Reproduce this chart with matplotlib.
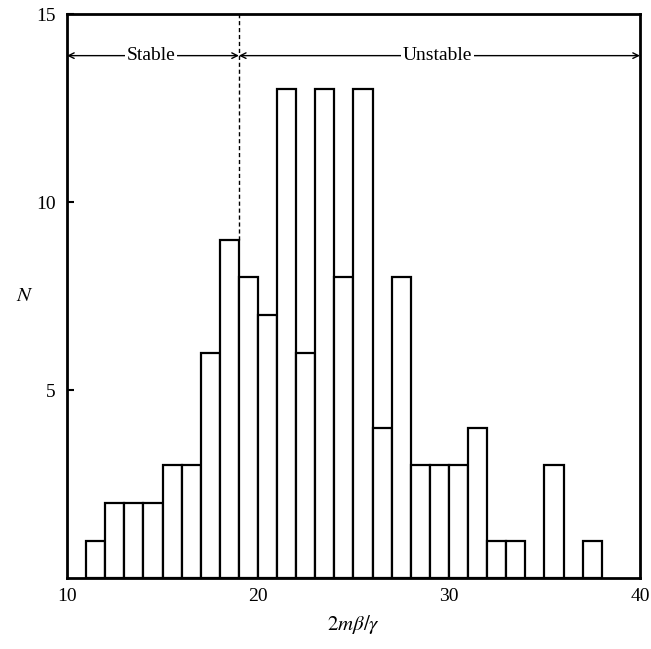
import matplotlib
matplotlib.use("Agg")
import matplotlib.pyplot as plt

plt.rcParams["font.family"] = ["Liberation Serif", "DejaVu Serif"]
plt.rcParams["mathtext.fontset"] = "stix"

# histogram: left bin edges (width 1) and counts
bin_left = [11, 12, 13, 14, 15, 16, 17, 18, 19, 20, 21, 22, 23, 24,
            25, 26, 27, 28, 29, 30, 31, 32, 33, 34, 35, 36, 37]
counts = [1, 2, 2, 2, 3, 3, 6, 9, 8, 7, 13, 6, 13, 8,
          13, 4, 8, 3, 3, 3, 4, 1, 1, 0, 3, 0, 1]

boundary = 19
arrow_y = 13.9
x_ticks = [10, 20, 30, 40]
y_ticks = [5, 10, 15]

fig = plt.figure(figsize=(6.51, 6.49), dpi=100)
ax = fig.add_axes([0.103, 0.109, 0.880, 0.869])

ax.bar(bin_left, counts, width=1, align="edge", facecolor="white",
       edgecolor="black", linewidth=1.6)

# stable / unstable boundary
ax.plot([boundary, boundary], [counts[bin_left.index(18)], 15], color="black",
        linestyle=(0, (3, 2)), linewidth=1.0)

# range arrows with labels
ax.annotate("", xy=(10, arrow_y), xytext=(boundary, arrow_y),
            arrowprops=dict(arrowstyle="<->", color="black", lw=1.0,
                            shrinkA=0, shrinkB=0))
ax.annotate("", xy=(boundary, arrow_y), xytext=(40, arrow_y),
            arrowprops=dict(arrowstyle="<->", color="black", lw=1.0,
                            shrinkA=0, shrinkB=0))
ax.text(14.4, arrow_y, "Stable", ha="center", va="center", fontsize=14,
        bbox=dict(facecolor="white", edgecolor="none", pad=1))
ax.text(29.4, arrow_y, "Unstable", ha="center", va="center", fontsize=14,
        bbox=dict(facecolor="white", edgecolor="none", pad=1))

ax.set_xlim(10, 40)
ax.set_ylim(0, 15)
ax.set_xticks(x_ticks)
ax.set_yticks(y_ticks)
ax.tick_params(axis="x", length=0, labelsize=14, pad=7)
ax.tick_params(axis="y", direction="in", length=5, width=1.5, labelsize=14, pad=8)
for s in ax.spines.values():
    s.set_linewidth(2.0)

ax.set_xlabel(r"$2m\beta/\gamma$", fontsize=15, labelpad=6)
ax.set_ylabel(r"$N$", fontsize=15, rotation=0, labelpad=8, va="center")

fig.savefig("out.png", dpi=100)
